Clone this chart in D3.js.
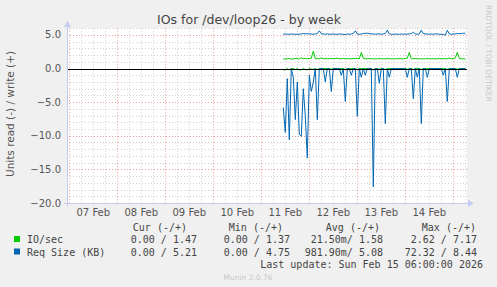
<!DOCTYPE html>
<html>
<head>
<meta charset="utf-8">
<script src="https://cdn.jsdelivr.net/npm/d3@7"></script>
<style>
  body { margin: 0; background: #f0f0f0; }
  svg { display: block; }
  .tick-label { font-family: "DejaVu Sans", sans-serif; font-size: 10px; fill: #555; }
  .mono { font-family: "DejaVu Sans Mono", monospace; font-size: 10px; fill: #444; }
</style>
</head>
<body>
<div id="chart"></div>
<script>
// hourly samples, starting Feb 11 11:00
var startTime = Date.UTC(2026, 1, 11, 11, 0);
var stepHours = 1;

// read side (drawn below zero)
var readReq = [5.8, 9.5, 1.5, 10.6, 0, 1.3, 7.6, 2.0, 9.8, 10.1,
    3.0, 7.1, 13.3, 1.0, 3.4, 2.0, 0, 7.6, 0, 0,
    0, 2.0, 0, 0, 3.4, 0, 0, 0, 0, 1.0,
    0, 4.9, 0, 0, 1.0, 0, 0, 7.1, 0, 1.3,
    0, 1.0, 0, 0, 0, 17.6, 0, 0, 2.2, 0,
    0, 8.2, 0, 1.3, 0, 0, 0, 0, 0, 0,
    0, 0, 1.3, 0, 0, 4.5, 0, 1.3, 0, 8.2,
    0, 0, 1.3, 0, 0, 0, 0, 0, 0, 0,
    1.0, 0, 4.9, 0, 0, 0, 0, 1.3, 0, 0,
    0, 0];
var readIO = [0.2, 0.2, 0, 0.2, 0, 0, 0.15, 0, 0.2, 0.2,
    0, 0.15, 0.2, 0, 0.1, 0.1, 0, 0.15, 0, 0,
    0, 0, 0, 0, 0.1, 0, 0, 0, 0, 0,
    0, 0.15, 0, 0, 0, 0, 0, 0.15, 0, 0,
    0, 0, 0, 0, 0, 0.2, 0, 0, 0.1, 0,
    0, 0.15, 0, 0, 0, 0, 0, 0, 0, 0,
    0, 0, 0.1, 0, 0, 0.15, 0, 0, 0, 0.15,
    0, 0, 0, 0, 0, 0, 0, 0, 0, 0,
    0, 0, 0.15, 0, 0, 0, 0, 0.1, 0, 0,
    0, 0];
// write side (drawn above zero)
var writeReq = [5.1, 5.15, 5.1, 5.1, 5.15, 5.1, 5.1, 5.1, 5.1, 5.15,
    5.2, 5.15, 5.2, 5.15, 5.15, 5.1, 5.15, 5.2, 5.6, 5.2,
    5.15, 5.1, 5.15, 5.1, 5.1, 5.15, 5.1, 5.1, 5.15, 5.1,
    5.1, 5.05, 5.15, 5.1, 5.15, 5.2, 5.6, 5.15, 5.1, 5.15,
    5.2, 5.25, 5.25, 5.2, 5.15, 5.15, 5.1, 5.15, 5.15, 5.1,
    5.15, 5.2, 5.7, 5.15, 5.1, 5.1, 5.15, 5.1, 5.1, 5.15,
    5.1, 5.15, 5.1, 5.15, 5.2, 5.4, 5.15, 5.1, 5.15, 5.7,
    5.2, 5.15, 5.15, 5.1, 5.15, 5.1, 5.15, 5.15, 5.1, 5.1,
    5.1, 4.95, 5.7, 5.15, 5.1, 5.15, 5.15, 5.2, 5.2, 5.2,
    5.25, 5.25];
var writeIO = [1.45, 1.4, 1.45, 1.5, 1.4, 1.45, 1.5, 1.45, 1.45, 1.6,
    1.45, 1.5, 1.45, 1.5, 1.55, 2.6, 1.45, 1.5, 1.45, 1.6,
    1.45, 1.5, 1.45, 1.45, 1.5, 1.45, 1.5, 1.55, 1.45, 1.45,
    1.5, 1.45, 1.5, 1.45, 1.45, 1.5, 1.45, 1.5, 1.45, 2.4,
    1.5, 1.45, 1.45, 1.5, 1.45, 1.45, 1.45, 1.45, 1.5, 1.45,
    1.45, 1.45, 1.5, 1.45, 1.45, 1.45, 1.45, 1.45, 1.5, 1.45,
    1.45, 1.5, 1.55, 2.4, 1.45, 1.45, 1.5, 1.45, 1.45, 1.45,
    1.45, 1.45, 1.5, 1.45, 1.45, 1.45, 1.45, 1.45, 1.5, 1.45,
    1.45, 1.5, 1.45, 1.55, 1.45, 1.45, 1.6, 2.4, 1.5, 1.45,
    1.45, 1.4];

var yTicks = [5, 0, -5, -10, -15, -20];
var dayLabels = ["07 Feb", "08 Feb", "09 Feb", "10 Feb", "11 Feb", "12 Feb", "13 Feb", "14 Feb"];

var legendHeaders = ["Cur (-/+)", "Min (-/+)", "Avg (-/+)", "Max (-/+)"];
var legendRows = [
    { name: "IO/sec", color: "#00cc00", values: ["0.00 / 1.47", "0.00 / 1.37", "21.50m/ 1.58", "2.62 / 7.17"] },
    { name: "Req Size (KB)", color: "#0066b3", values: ["0.00 / 5.21", "0.00 / 4.75", "981.90m/ 5.08", "72.32 / 8.44"] }
];

var width = 497, height = 287;
var plot = { left: 67, right: 467, top: 28.2, bottom: 203 };

var svg = d3.select("#chart").append("svg")
    .attr("width", width)
    .attr("height", height);

svg.append("rect").attr("width", width).attr("height", height).attr("fill", "#f0f0f0");

var t0 = new Date(Date.UTC(2026, 1, 6, 22, 51));
var t1 = new Date(t0.getTime() + 200 * 3600 * 1000);
var x = d3.scaleUtc().domain([t0, t1]).range([plot.left, plot.right]);
var y = d3.scaleLinear().domain([-20, 6]).range([plot.bottom, plot.top]);

svg.append("rect")
    .attr("x", plot.left).attr("y", plot.top)
    .attr("width", plot.right - plot.left).attr("height", plot.bottom - plot.top)
    .attr("fill", "#fff");

// grid
var grid = svg.append("g");
var minorY = d3.range(-19, 7).filter(function(v) { return v % 5 !== 0; });
grid.selectAll(".ymin").data(minorY).enter().append("line")
    .attr("x1", plot.left).attr("x2", plot.right)
    .attr("y1", function(d) { return Math.round(y(d)) + 0.5; })
    .attr("y2", function(d) { return Math.round(y(d)) + 0.5; })
    .attr("stroke", "#d0d0d0").attr("stroke-dasharray", "1,2");

var sixHours = d3.utcHour.every(6).range(t0, t1).filter(function(d) { return d.getUTCHours() !== 0; });
grid.selectAll(".xmin").data(sixHours).enter().append("line")
    .attr("y1", plot.top).attr("y2", plot.bottom)
    .attr("x1", function(d) { return Math.round(x(d)) + 0.5; })
    .attr("x2", function(d) { return Math.round(x(d)) + 0.5; })
    .attr("stroke", "#d0d0d0").attr("stroke-dasharray", "1,2");

grid.selectAll(".ymaj").data(yTicks.filter(function(v) { return v !== 0; })).enter().append("line")
    .attr("x1", plot.left).attr("x2", plot.right)
    .attr("y1", function(d) { return Math.round(y(d)) + 0.5; })
    .attr("y2", function(d) { return Math.round(y(d)) + 0.5; })
    .attr("stroke", "#e8a0a0").attr("stroke-dasharray", "1,2");

var days = d3.utcDay.range(t0, t1);
grid.selectAll(".xmaj").data(days).enter().append("line")
    .attr("y1", plot.top).attr("y2", plot.bottom + 2)
    .attr("x1", function(d) { return Math.round(x(d)) + 0.5; })
    .attr("x2", function(d) { return Math.round(x(d)) + 0.5; })
    .attr("stroke", "#e8a0a0").attr("stroke-dasharray", "1,2");

// series
var times = readReq.map(function(d, i) { return new Date(startTime + i * stepHours * 3600 * 1000); });
function lineFor(arr, sign) {
    return d3.line()
        .x(function(d, i) { return x(times[i]); })
        .y(function(d) { return y(sign * d); })(arr);
}
var series = svg.append("g");
series.append("path").attr("d", lineFor(readIO, -1)).attr("fill", "none").attr("stroke", "#00cc00").attr("stroke-width", 1);
series.append("path").attr("d", lineFor(writeIO, 1)).attr("fill", "none").attr("stroke", "#00cc00").attr("stroke-width", 1);
series.append("path").attr("d", lineFor(readReq, -1)).attr("fill", "none").attr("stroke", "#0066b3").attr("stroke-width", 1);
series.append("path").attr("d", lineFor(writeReq, 1)).attr("fill", "none").attr("stroke", "#0066b3").attr("stroke-width", 1);

// zero line
svg.append("line")
    .attr("x1", plot.left).attr("x2", plot.right)
    .attr("y1", Math.round(y(0)) + 0.5).attr("y2", Math.round(y(0)) + 0.5)
    .attr("stroke", "#000").attr("stroke-width", 1.2);

// axes lines with arrows
var axisColor = "#c4ccf0";
svg.append("line").attr("x1", plot.left + 0.5).attr("x2", plot.left + 0.5)
    .attr("y1", plot.bottom + 3).attr("y2", 24).attr("stroke", axisColor);
svg.append("path").attr("d", "M" + (plot.left - 3) + ",27 L" + (plot.left + 0.5) + ",21 L" + (plot.left + 4) + ",27 Z").attr("fill", axisColor);
svg.append("line").attr("x1", plot.left - 3).attr("x2", 470)
    .attr("y1", plot.bottom + 0.5).attr("y2", plot.bottom + 0.5).attr("stroke", axisColor);
svg.append("path").attr("d", "M468," + (plot.bottom - 3) + " L474," + (plot.bottom + 0.5) + " L468," + (plot.bottom + 4) + " Z").attr("fill", axisColor);

// y tick labels
svg.selectAll(".ylab").data(yTicks).enter().append("text")
    .attr("class", "tick-label")
    .attr("x", 61)
    .attr("y", function(d) { return y(d) + 3.5; })
    .attr("text-anchor", "end")
    .text(function(d) { return d3.format(".1f")(d); });

// x day labels, centred on noon
svg.selectAll(".xlab").data(dayLabels).enter().append("text")
    .attr("class", "tick-label")
    .attr("x", function(d, i) { return x(new Date(Date.UTC(2026, 1, 7 + i, 12))); })
    .attr("y", 216)
    .attr("text-anchor", "middle")
    .text(function(d) { return d; });

// title
svg.append("text")
    .attr("x", 249).attr("y", 24)
    .attr("text-anchor", "middle")
    .style("font-family", "DejaVu Sans, sans-serif").style("font-size", "12.5px").style("fill", "#444")
    .text("IOs for /dev/loop26 - by week");

// vertical axis label
svg.append("text")
    .attr("transform", "translate(14,114) rotate(-90)")
    .attr("text-anchor", "middle")
    .style("font-family", "DejaVu Sans, sans-serif").style("font-size", "10.5px").style("fill", "#555")
    .text("Units read (-) / write (+)");

// side watermark
svg.append("text")
    .attr("transform", "translate(486,5) rotate(90)")
    .style("font-family", "DejaVu Sans, sans-serif").style("font-size", "7.5px").style("fill", "#c8c8c8")
    .text("RRDTOOL / TOBI OETIKER");

// legend
var colEnds = [187, 283, 380, 476];
var valEnds = [197, 290, 383, 477];
svg.selectAll(".lhead").data(legendHeaders).enter().append("text")
    .attr("class", "mono")
    .attr("x", function(d, i) { return colEnds[i]; })
    .attr("y", 231)
    .attr("text-anchor", "end")
    .text(function(d) { return d; });

var rows = svg.selectAll(".lrow").data(legendRows).enter().append("g")
    .attr("transform", function(d, i) { return "translate(0," + (243 + i * 12.5) + ")"; });
rows.append("rect").attr("x", 14).attr("y", -7).attr("width", 6).attr("height", 6)
    .attr("fill", function(d) { return d.color; });
rows.append("text").attr("class", "mono").attr("x", 27).attr("y", 0)
    .text(function(d) { return d.name; });
rows.each(function(r) {
    d3.select(this).selectAll(".v").data(r.values).enter().append("text")
        .attr("class", "mono")
        .attr("x", function(d, i) { return valEnds[i]; })
        .attr("y", 0)
        .attr("text-anchor", "end")
        .text(function(d) { return d; });
});

svg.append("text").attr("class", "mono")
    .attr("x", 483).attr("y", 268).attr("text-anchor", "end")
    .text("Last update: Sun Feb 15 06:00:00 2026");

svg.append("text")
    .attr("x", 248).attr("y", 280).attr("text-anchor", "middle")
    .style("font-family", "DejaVu Sans, sans-serif").style("font-size", "7.5px").style("fill", "#c8c8c8")
    .text("Munin 2.0.76");
</script>
</body>
</html>
